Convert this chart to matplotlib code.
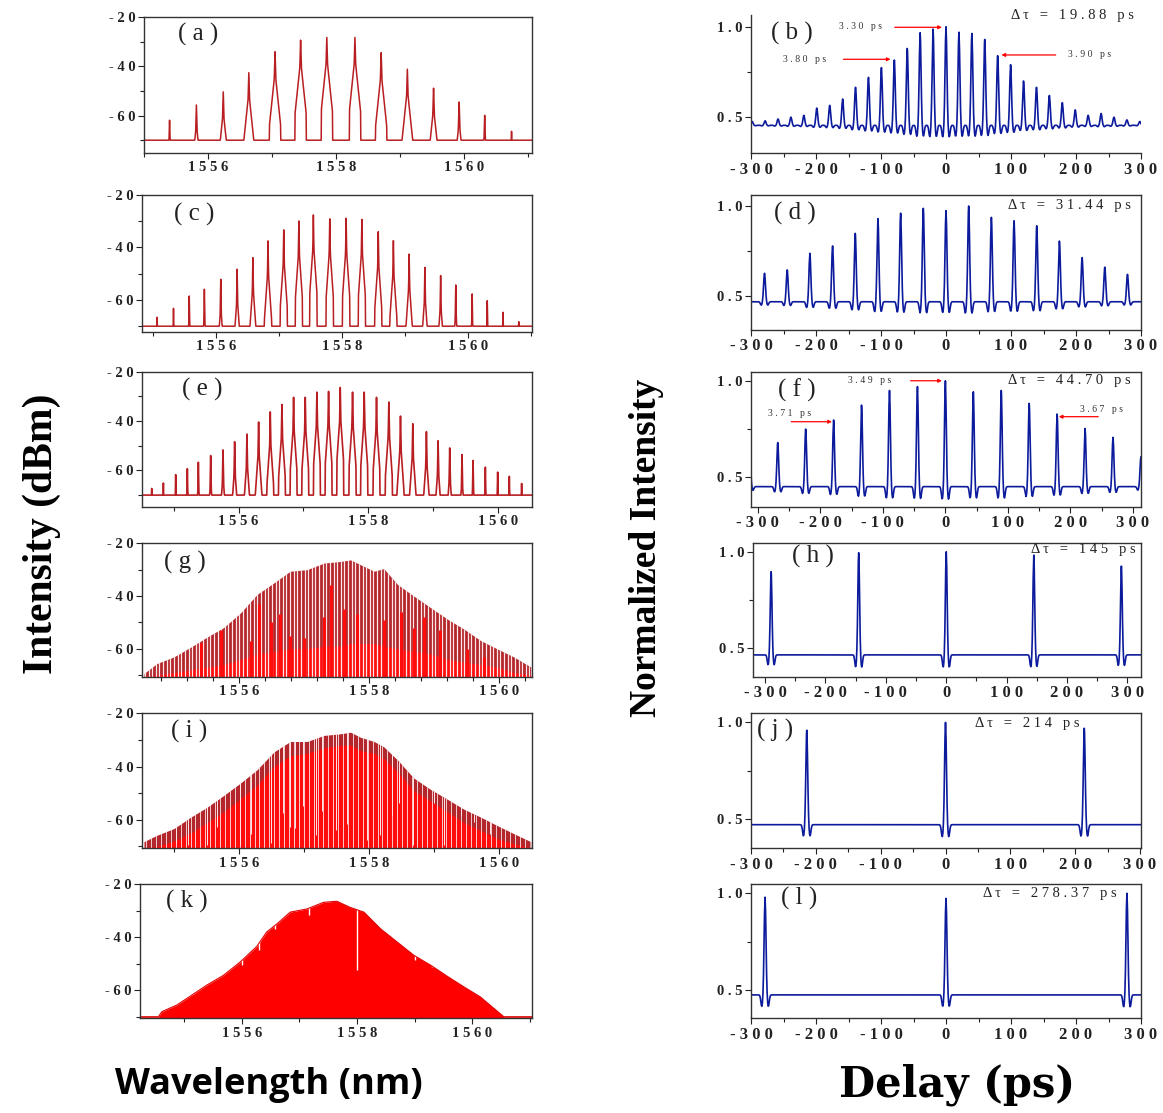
import numpy as np
import matplotlib
matplotlib.use("Agg")
import matplotlib.pyplot as plt
from matplotlib.ticker import FuncFormatter

SERIF = ["Liberation Serif", "DejaVu Serif"]
plt.rcParams["font.family"] = SERIF
plt.rcParams["font.weight"] = "bold"

# ---------------- optical spectra: line wavelength (nm) / peak (dBm) ----------------
a_wl = [1555.40, 1555.82, 1556.24, 1556.64, 1557.05, 1557.45, 1557.86,
        1558.30, 1558.71, 1559.12, 1559.53, 1559.93, 1560.33, 1560.75]
a_pk = [-61.9, -55.7, -50.4, -42.6, -34.1, -29.4, -28.3,
        -28.3, -34.5, -41.2, -48.9, -54.5, -59.9, -66.4]

c_wl = [1555.06, 1555.32, 1555.57, 1555.81, 1556.07, 1556.33, 1556.58, 1556.82,
        1557.07, 1557.31, 1557.54, 1557.80, 1558.06, 1558.31, 1558.57, 1558.81,
        1559.06, 1559.31, 1559.56, 1559.80, 1560.06, 1560.30, 1560.55, 1560.80]
c_pk = [-66.6, -63.2, -58.5, -55.9, -52.1, -48.3, -43.9, -37.5,
        -33.3, -29.9, -27.6, -29.1, -28.9, -29.3, -34.0, -37.4,
        -42.5, -47.6, -50.7, -54.3, -57.7, -60.3, -64.7, -68.3]

e_wl = [1554.66, 1554.84, 1555.03, 1555.21, 1555.38, 1555.57, 1555.76, 1555.94,
        1556.13, 1556.31, 1556.49, 1556.67, 1556.85, 1557.03, 1557.21, 1557.39,
        1557.57, 1557.76, 1557.94, 1558.13, 1558.32, 1558.50, 1558.69, 1558.90,
        1559.08, 1559.26, 1559.45, 1559.62, 1559.81, 1560.00, 1560.18, 1560.37]
e_pk = [-67.3, -65.1, -61.7, -59.3, -56.7, -54.0, -51.7, -48.4,
        -45.3, -40.4, -36.3, -33.3, -30.4, -30.4, -28.3, -28.0,
        -26.4, -28.3, -28.3, -30.4, -32.3, -38.0, -41.1, -44.3,
        -48.0, -50.9, -53.6, -56.0, -58.7, -60.7, -62.4, -65.3]

# dense combs: envelope (top), solid-fill level (floor)
g_wl = [1554.54, 1554.74, 1555.00, 1555.26, 1555.51, 1555.77, 1556.03, 1556.28, 1556.54,
        1556.79, 1557.05, 1557.31, 1557.56, 1557.72, 1557.87, 1558.08, 1558.23, 1558.44,
        1558.69, 1558.95, 1559.21, 1559.46, 1559.72, 1559.97, 1560.23, 1560.49]
g_top = [-69.4, -65.6, -63.1, -59.4, -55.6, -51.9, -46.3, -39.4, -35.0,
         -30.6, -30.0, -27.5, -26.9, -26.3, -28.1, -30.6, -29.6, -35.6,
         -40.0, -44.4, -48.8, -52.5, -56.9, -60.0, -63.1, -66.9]
g_floor = [-70.5, -70.0, -69.0, -68.0, -67.0, -66.0, -64.0, -62.0, -61.0,
           -60.0, -60.0, -59.0, -59.0, -58.0, -58.0, -58.0, -59.0, -60.0,
           -61.0, -62.0, -64.0, -65.0, -66.0, -67.0, -69.0, -70.0]
g_spike_wl = [1555.41, 1555.72, 1556.18, 1556.31, 1556.49, 1556.64, 1556.79, 1557.00,
              1557.31, 1557.41, 1557.62, 1557.82, 1558.23, 1558.49, 1558.69, 1558.85,
              1559.10, 1559.51, 1559.77]
g_spike_top = [-58, -53, -57, -43, -50, -47, -55, -56, -48, -36, -45, -47,
               -49, -46, -52, -48, -53, -60, -63]

i_wl = g_wl
i_top = [-68.2, -65.8, -63.3, -59.0, -55.3, -50.8, -46.1, -41.2, -34.5,
         -30.6, -30.6, -28.3, -27.7, -27.1, -29.0, -30.6, -32.6, -37.5,
         -44.3, -48.6, -52.3, -56.0, -59.0, -62.1, -65.2, -68.2]
i_floor = [-70.5, -70.0, -68.0, -65.0, -61.0, -57.0, -52.0, -47.0, -40.0,
           -36.0, -35.0, -33.0, -32.0, -32.0, -34.0, -35.0, -37.0, -42.0,
           -49.0, -53.0, -57.0, -61.0, -64.0, -67.0, -69.0, -70.5]
i_gap_wl = [1555.03, 1555.21, 1555.51, 1555.66, 1556.01, 1556.19, 1556.49, 1556.62,
            1556.68, 1556.78, 1556.86, 1556.99, 1557.18, 1557.28, 1557.49, 1557.67,
            1557.97, 1558.17, 1558.36, 1558.46, 1558.68, 1559.00, 1559.16, 1559.41,
            1559.62, 1559.87]
i_gap_lo = [-68.8, -69.4, -69.4, -62.6, -69.4, -65.2, -68.8, -52.5,
            -57.4, -62.6, -63.2, -54.7, -65.8, -56.6, -63.9, -61.4,
            -67.5, -65.8, -58.5, -53.5, -69.4, -53.5, -69.4, -58.5,
            -61.0, -65.2]

k_wl = [1554.23, 1554.55, 1554.61, 1554.87, 1555.10, 1555.39, 1555.68, 1555.97, 1556.26,
        1556.43, 1556.61, 1556.84, 1557.13, 1557.42, 1557.65, 1557.88, 1558.12, 1558.41,
        1558.70, 1558.99, 1559.28, 1559.57, 1559.86, 1560.14, 1560.38, 1560.55, 1561.04]
k_top = [-70.0, -70.0, -68.1, -65.6, -62.3, -58.1, -54.4, -49.4, -43.5,
         -38.1, -35.0, -30.6, -29.4, -26.9, -26.5, -28.8, -30.6, -36.9,
         -41.9, -46.9, -50.6, -54.8, -58.8, -62.5, -66.9, -70.0, -70.0]
k_gap_wl = [1556.00, 1556.29, 1556.58, 1557.16, 1558.00, 1559.01, 1559.30]
k_gap_lo = [-50.6, -45.0, -37.0, -31.5, -52.5, -48.5, -51.3]

# ---------------- autocorrelation: peak delay (ps) / height ----------------
b_delay = [-298.2, -278.3, -258.4, -238.6, -218.7, -198.8, -178.9, -159.0, -139.2, -119.3,
           -99.4, -79.5, -59.6, -39.8, -19.9, 0.0, 19.9, 39.8, 59.6, 79.5, 99.4, 119.3,
           139.2, 159.0, 178.9, 198.8, 218.7, 238.6, 258.4, 278.3, 298.2]
b_height = [0.476, 0.48, 0.49, 0.50, 0.51, 0.55, 0.565, 0.60, 0.665, 0.72,
            0.774, 0.816, 0.88, 0.967, 0.987, 1.0, 0.97, 0.963, 0.93, 0.84, 0.79, 0.70,
            0.665, 0.62, 0.58, 0.54, 0.51, 0.52, 0.50, 0.485, 0.476]
d_delay = [-279.2, -244.3, -209.4, -174.5, -139.6, -104.7, -69.8, -34.9, 0.0,
           34.9, 69.8, 104.7, 139.6, 174.5, 209.4, 244.3, 279.2]
d_height = [0.626, 0.645, 0.737, 0.778, 0.848, 0.93, 0.96, 0.987, 0.974,
            1.0, 0.937, 0.918, 0.89, 0.805, 0.713, 0.66, 0.62]
f_delay = [-312.9, -268.2, -223.5, -178.8, -134.1, -89.4, -44.7, 0.0,
           44.7, 89.4, 134.1, 178.8, 223.5, 268.2, 312.9]
f_height = [0.615, 0.68, 0.75, 0.797, 0.874, 0.95, 0.97, 1.0,
            0.943, 0.95, 0.883, 0.828, 0.753, 0.707, 0.607]
h_delay = [-290.0, -145.0, 0.0, 145.0, 290.0]
h_height = [0.897, 0.995, 1.0, 0.983, 0.926]
j_delay = [-214.0, 0.0, 214.0]
j_height = [0.96, 1.0, 0.97]
l_delay = [-278.37, 0.0, 278.37]
l_height = [0.98, 0.974, 1.0]
baselines = {"b": 0.455, "d": 0.468, "f": 0.452, "h": 0.466, "j": 0.472, "l": 0.475}

DARK = "#b3262b"
BRIGHT = "#ff0d0d"
LINE = "#b81e22"
BLUE = "#0c1a9c"

W, H = 1163, 1113


def box(x0, x1, top, bottom):
    return [x0 / W, 1 - bottom / H, (x1 - x0) / W, (bottom - top) / H]


def spaced(s):
    return " ".join(s)


def setup(ax, xlim, ylim, xmaj, xmin, ymaj, ymin, yfmt, xsize=10.5):
    ax.set_xlim(xlim)
    ax.set_ylim(ylim)
    ax.set_xticks(xmaj)
    ax.set_xticks(xmin, minor=True)
    ax.set_yticks(ymaj)
    ax.set_yticks(ymin, minor=True)
    ax.xaxis.set_major_formatter(FuncFormatter(lambda v, p: spaced(f"{v:.0f}")))
    ax.yaxis.set_major_formatter(FuncFormatter(lambda v, p: spaced(yfmt.format(v))))
    ax.tick_params(which="both", direction="out", length=4, width=0.8,
                   colors="#222222", labelsize=10.5, pad=2)
    ax.tick_params(axis="x", labelsize=xsize)
    ax.tick_params(which="minor", length=3)
    for s in ax.spines.values():
        s.set_color("#333333")
        s.set_linewidth(1.0)


def comb_trace(lo, hi, wl, pk, s1, drop, s2, cut, floor=-70.0):
    # narrow tip, shoulder, then a sharp fall to the floor
    x = np.union1d(np.arange(lo, hi, 0.004), wl)
    y = np.full_like(x, floor)
    for c, p in zip(wl, pk):
        dx = np.abs(x - c)
        prof = np.maximum(p - s1 * dx, p - drop - s2 * dx)
        prof[prof < p - cut] = floor
        y = np.maximum(y, prof)
    return x, y


def acf_trace(lo, hi, delays, heights, base):
    t = np.union1d(np.arange(lo, hi, 0.8), delays)
    y = np.full_like(t, base)
    for d, h in zip(delays, heights):
        amp = h - base
        y += amp * np.exp(-0.5 * ((t - d) / 1.4) ** 2)
        y -= 0.12 * amp * np.exp(-0.5 * ((t - d - 5.0) / 1.4) ** 2)
        y -= 0.12 * amp * np.exp(-0.5 * ((t - d + 5.0) / 1.4) ** 2)
    return t, y


def clip_to(coll, poly):
    coll.set_clip_path(poly.get_paths()[0], poly.get_transform())


def panel_label(ax, x, y, s):
    ax.text(x, y, "( " + s + " )", transform=ax.transAxes, fontsize=18,
            fontweight="normal", ha="center", va="center", color="#222222")


fig = plt.figure(figsize=(W / 100, H / 100), dpi=100)

lmaj = [1556, 1558, 1560]
lymaj = [-60, -40, -20]
lymin = [-70, -50, -30]

# (a)
ax = fig.add_axes(box(144, 532, 17, 153))
x, y = comb_trace(1554.9, 1561.2, a_wl, a_pk, 900, 8, 250, 30)
ax.plot(x, y, color=LINE, lw=1.1)
setup(ax, (1555.0, 1561.07), (-75.2, -20), lmaj, [1555, 1557, 1559, 1561], lymaj, lymin, "{:.0f}")
panel_label(ax, 0.14, 0.87, "a")

# (c)
ax = fig.add_axes(box(142, 532, 195, 331.7))
x, y = comb_trace(1554.7, 1561.1, c_wl, c_pk, 1400, 10, 350, 30)
ax.plot(x, y, color=LINE, lw=1.1)
setup(ax, (1554.82, 1561.01), (-72.1, -20), lmaj, [1555, 1557, 1559, 1561], lymaj, lymin, "{:.0f}")
panel_label(ax, 0.135, 0.855, "c")

# (e)
ax = fig.add_axes(box(142, 532, 371.7, 506.7))
x, y = comb_trace(1554.4, 1560.6, e_wl, e_pk, 1400, 10, 380, 30)
ax.plot(x, y, color=LINE, lw=1.2)
setup(ax, (1554.51, 1560.53), (-74.7, -20), lmaj, [1555, 1557, 1559], lymaj, lymin, "{:.0f}")
panel_label(ax, 0.155, 0.865, "e")

# (g)
ax = fig.add_axes(box(142, 532, 543.3, 676.7))
poly = ax.fill_between(g_wl, -75, g_top, color=DARK, lw=0)
gaps = ax.vlines(np.arange(1554.5, 1560.6, 0.0558), -75, -20, color="#fbe9e9", lw=0.9)
clip_to(gaps, poly)
ax.fill_between(g_wl, -75, g_floor, color=BRIGHT, lw=0)
ax.vlines(g_spike_wl, -75, g_spike_top, color=BRIGHT, lw=2.2)
setup(ax, (1554.51, 1560.51), (-70.6, -20), lmaj,
      [1554.8, 1555.2, 1555.6, 1556.4, 1556.8, 1557.2, 1557.6, 1558.4, 1558.8, 1559.2, 1559.6, 1560.4],
      lymaj, lymin, "{:.0f}")
panel_label(ax, 0.11, 0.86, "g")

# (i)
ax = fig.add_axes(box(142, 532, 713.3, 848.3))
poly = ax.fill_between(i_wl, -75, i_top, color=DARK, lw=0)
gaps = ax.vlines(np.arange(1554.5, 1560.6, 0.0757), -75, -20, color="#fbe9e9", lw=0.6)
clip_to(gaps, poly)
ax.fill_between(i_wl, -75, i_floor, color=BRIGHT, lw=0)
deep = ax.vlines(i_gap_wl, i_gap_lo, -20, color="#fbe9e9", lw=0.7)
clip_to(deep, poly)
setup(ax, (1554.51, 1560.51), (-70.7, -20), lmaj, [1555, 1557, 1559], lymaj, lymin, "{:.0f}")
panel_label(ax, 0.12, 0.865, "i")

# (k)
ax = fig.add_axes(box(140, 532, 884, 1018.3))
poly = ax.fill_between(k_wl, -75, k_top, color="#ff0000", lw=0)
notch = ax.vlines(k_gap_wl, k_gap_lo, -20, color="white", lw=1.0)
clip_to(notch, poly)
ax.plot(k_wl, k_top, color="#e00000", lw=0.8)
setup(ax, (1554.23, 1561.04), (-70.6, -20), lmaj, [1555, 1557, 1559, 1561], lymaj, lymin, "{:.0f}")
panel_label(ax, 0.12, 0.87, "k")

# ---------------- right column ----------------
rmaj = [-300, -200, -100, 0, 100, 200, 300]
rmin = [-250, -150, -50, 50, 150, 250]
rymaj = [0.5, 1.0]
rymin = [0.75]


def right_panel(rect, xlim, ylim, delays, heights, base, label, lpos, dt, dtpos):
    ax = fig.add_axes(rect)
    t, y = acf_trace(xlim[0], xlim[1] + 0.5, delays, heights, base)
    ax.plot(t, y, color=BLUE, lw=1.2)
    setup(ax, xlim, ylim, rmaj, rmin, rymaj, rymin, "{:.1f}", xsize=12)
    panel_label(ax, lpos[0], lpos[1], label)
    ax.text(dtpos[0], dtpos[1], spaced(dt), ha="right", va="center", fontsize=10.5,
            fontweight="normal", color="#222222", clip_on=False)
    return ax


def note(ax, s, tx, ty, x0, x1, y):
    ax.text(tx, ty, spaced(s), ha="center", va="center", fontsize=7,
            fontweight="normal", color="#333333")
    ax.annotate("", xy=(x1, y), xytext=(x0, y),
                arrowprops=dict(arrowstyle="-|>", color="red", lw=0.9, mutation_scale=5))


ax = right_panel(box(751, 1141, 15, 153.3), (-300, 300), (0.30, 1.065), b_delay, b_height,
                 baselines["b"], "b", (0.105, 0.87), "Δτ = 19.88 ps", (289, 1.064))
ax.spines["top"].set_visible(False)
ax.spines["right"].set_visible(False)
note(ax, "3.30 ps", -132, 1.0, -83, -2, 0.997)
note(ax, "3.80 ps", -218, 0.82, -162, -81, 0.82)
note(ax, "3.90 ps", 221, 0.844, 173, 81, 0.844)

right_panel(box(751, 1141, 195, 330), (-300, 300), (0.311, 1.061), d_delay, d_height,
            baselines["d"], "d", (0.113, 0.864), "Δτ = 31.44 ps", (284, 1.0))

ax = right_panel(box(751, 1141, 371.7, 506.7), (-311, 313), (0.348, 1.047), f_delay, f_height,
                 baselines["f"], "f", (0.118, 0.864), "Δτ = 44.70 ps", (297, 1.0))
note(ax, "3.49 ps", -121, 1.0, -60, -1, 1.0)
ax.text(-250, 0.831, spaced("3.71 ps"), ha="center", va="center", fontsize=7,
        fontweight="normal", color="#333333")
ax.annotate("", xy=(-177, 0.788), xytext=(-251, 0.788),
            arrowprops=dict(arrowstyle="-|>", color="red", lw=0.9, mutation_scale=5))
ax.text(249, 0.852, spaced("3.67 ps"), ha="center", va="center", fontsize=7,
        fontweight="normal", color="#333333")
ax.annotate("", xy=(177, 0.814), xytext=(249, 0.814),
            arrowprops=dict(arrowstyle="-|>", color="red", lw=0.9, mutation_scale=5))

right_panel(box(753, 1141, 542.7, 676.7), (-320, 322.5), (0.353, 1.047), h_delay, h_height,
            baselines["h"], "h", (0.155, 0.896), "Δτ = 145 ps", (314, 1.012))
right_panel(box(751, 1141, 713.3, 848.3), (-300, 301.5), (0.35, 1.047), j_delay, j_height,
            baselines["j"], "j", (0.062, 0.876), "Δτ = 214 ps", (207, 0.995))
right_panel(box(751, 1141, 884, 1018.3), (-300, 300), (0.354, 1.048), l_delay, l_height,
            baselines["l"], "l", (0.123, 0.893), "Δτ = 278.37 ps", (263, 1.0))

# ---------------- big axis titles ----------------
fig.text(0.036, 0.52, "Intensity (dBm)", rotation=90, ha="center", va="center",
         fontsize=30, fontweight="bold", family=SERIF)
fig.text(0.556, 0.508, "Normalized Intensity", rotation=90, ha="center", va="center",
         fontsize=27, fontweight="bold", family=SERIF)
fig.text(0.231, 0.025, "Wavelength (nm)", ha="center", va="center",
         fontsize=26, fontweight="bold", family=["Open Sans", "DejaVu Sans"])
fig.text(0.823, 0.025, "Delay (ps)", ha="center", va="center",
         fontsize=30, fontweight="bold", family=["DejaVu Serif"])

fig.savefig("out.png", dpi=100)
